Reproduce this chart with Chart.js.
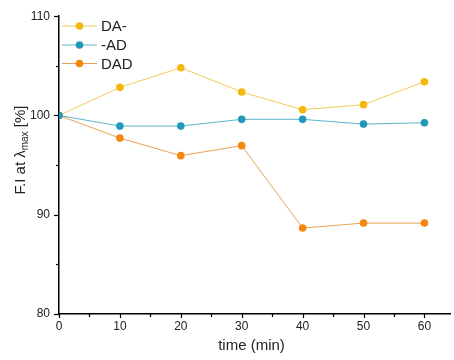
<!DOCTYPE html>
<html>
<head>
<meta charset="utf-8">
<script src="https://cdn.jsdelivr.net/npm/chart.js@4"></script>
<style>
html,body{margin:0;padding:0;background:#fff;}
#wrap{width:454px;height:360px;position:relative;}
</style>
</head>
<body>
<div id="wrap"><canvas id="c" width="454" height="360"></canvas></div>
<script>
const times = [0, 10, 20, 30, 40, 50, 60];
const seriesNames = ['DA-', '-AD', 'DAD'];
const daValues  = [100, 102.83, 104.81, 102.36, 100.58, 101.09, 103.40];
const adValues  = [100.0, 98.93, 98.93, 99.61, 99.61, 99.13, 99.27];
const dadValues = [100, 97.72, 95.95, 96.96, 88.66, 89.16, 89.16];
const xTickLabels = [0, 10, 20, 30, 40, 50, 60];
const yTickLabels = [80, 90, 100, 110];

const markerColors = ['#F5B70C', '#2198BC', '#F4870E'];
const lineColors = ['#F2CA55', '#5DB5CC', '#E9A355'];

function pts(vals){ return times.map((t,i)=>({x:t,y:vals[i]})); }

const FONT = '"Liberation Sans", Arial, sans-serif';

const customDraw = {
  id: 'customDraw',
  afterDraw(chart){
    const ctx = chart.ctx;
    const xs = chart.scales.x, ys = chart.scales.y;
    const ca = chart.chartArea;
    ctx.save();
    ctx.strokeStyle = '#000';
    ctx.lineWidth = 1.2;
    // x ticks
    for (let v = 0; v <= 60; v += 5) {
      const px = Math.round(xs.getPixelForValue(v)) + 0.5;
      const len = (v % 10 === 0) ? 4 : 3;
      ctx.beginPath(); ctx.moveTo(px, ca.bottom); ctx.lineTo(px, ca.bottom + len); ctx.stroke();
    }
    // y ticks
    for (let v = 80; v <= 110; v += 5) {
      const py = Math.round(ys.getPixelForValue(v)) + 0.5;
      const len = (v % 10 === 0) ? 5 : 3;
      ctx.beginPath(); ctx.moveTo(ca.left, py); ctx.lineTo(ca.left - len, py); ctx.stroke();
    }
    // x title
    ctx.fillStyle = '#222';
    ctx.font = '15px ' + FONT;
    ctx.textAlign = 'center';
    ctx.textBaseline = 'middle';
    ctx.fillText('time (min)', (ca.left + ca.right) / 2 - 3, 346);
    // y title with subscript
    ctx.save();
    ctx.translate(20, 150);
    ctx.rotate(-Math.PI / 2);
    const mainFont = '15px ' + FONT, subFont = '10px ' + FONT;
    const p1 = 'F.I at \u03BB', p2 = 'max', p3 = ' [%]';
    ctx.font = mainFont; const w1 = ctx.measureText(p1).width, w3 = ctx.measureText(p3).width;
    ctx.font = subFont; const w2 = ctx.measureText(p2).width;
    let x0 = -(w1 + w2 + w3) / 2;
    ctx.textAlign = 'left';
    ctx.textBaseline = 'alphabetic';
    ctx.font = mainFont; ctx.fillText(p1, x0, 5);
    ctx.font = subFont; ctx.fillText(p2, x0 + w1, 8);
    ctx.font = mainFont; ctx.fillText(p3, x0 + w1 + w2, 5);
    ctx.restore();
    // legend
    const legY = [26, 45, 63.5];
    chart.data.datasets.forEach((ds, i) => {
      const y = legY[i];
      ctx.strokeStyle = lineColors[i];
      ctx.lineWidth = 1;
      ctx.beginPath(); ctx.moveTo(62, y); ctx.lineTo(97, y); ctx.stroke();
      ctx.fillStyle = markerColors[i];
      ctx.beginPath(); ctx.arc(79.5, y, 3.8, 0, Math.PI * 2); ctx.fill();
      ctx.fillStyle = '#222';
      ctx.font = '15px ' + FONT;
      ctx.textAlign = 'left';
      ctx.textBaseline = 'middle';
      ctx.fillText(ds.label, 101, y + 1);
    });
    ctx.restore();
  }
};

const datasets = [daValues, adValues, dadValues].map((vals, i) => ({
  label: seriesNames[i],
  data: pts(vals),
  borderColor: lineColors[i],
  backgroundColor: markerColors[i],
  pointBackgroundColor: markerColors[i],
  pointBorderColor: markerColors[i],
  pointBorderWidth: 0,
  pointRadius: 3.8,
  borderWidth: 1,
  tension: 0,
  order: [1, 0, 2][i]
}));

new Chart(document.getElementById('c'), {
  type: 'line',
  data: { datasets },
  options: {
    responsive: false,
    animation: false,
    devicePixelRatio: 1,
    layout: { padding: { top: 16, right: 1, left: 0, bottom: 0 } },
    plugins: { legend: { display: false }, tooltip: { enabled: false } },
    scales: {
      x: {
        type: 'linear',
        min: 0, max: 64.2,
        afterFit(s){ s.height = 46; },
        ticks: {
          stepSize: 10, includeBounds: false, maxRotation: 0, autoSkip: false,
          padding: 5, color: '#222', font: { family: FONT, size: 12 },
          callback: v => xTickLabels.includes(v) ? String(v) : ''
        },
        grid: { display: false, drawTicks: false },
        border: { display: true, color: '#000', width: 1.5 }
      },
      y: {
        type: 'linear',
        min: 80, max: 110,
        afterFit(s){ s.width = 59; },
        ticks: {
          stepSize: 10, padding: 9, color: '#222', font: { family: FONT, size: 12 },
          callback: v => yTickLabels.includes(v) ? String(v) : ''
        },
        grid: { display: false, drawTicks: false },
        border: { display: true, color: '#000', width: 1.5 }
      }
    }
  },
  plugins: [customDraw]
});
</script>
</body>
</html>
